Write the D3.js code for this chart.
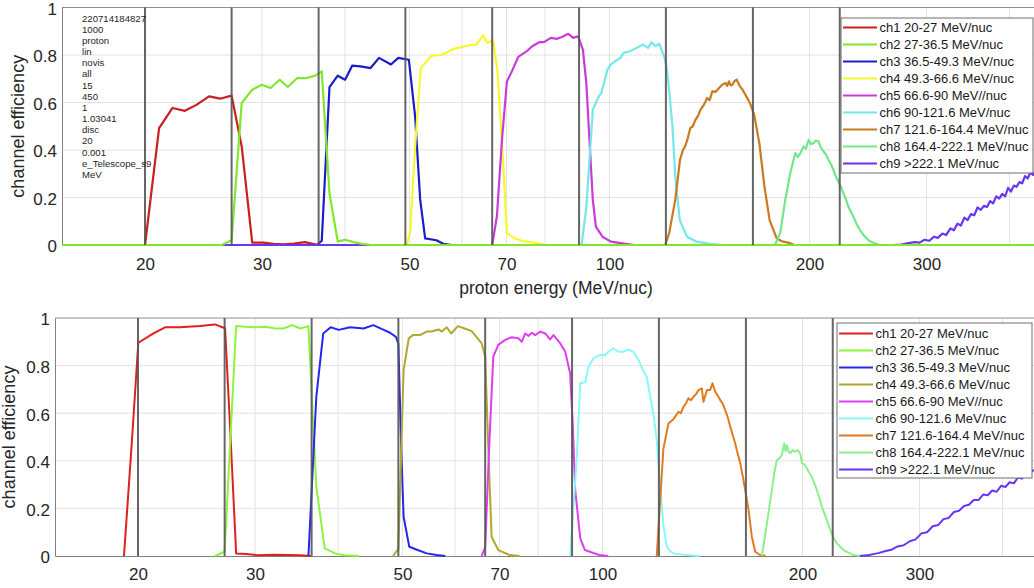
<!DOCTYPE html>
<html><head><meta charset="utf-8">
<script src="https://cdn.jsdelivr.net/npm/d3@7"></script>
<style>
html,body{margin:0;padding:0;background:#fff;}
svg{display:block;font-family:"Liberation Sans",Arial,Helvetica,sans-serif;}
</style></head>
<body><svg id="c" width="1034" height="588"></svg>
<script>
// ---------- DATA ----------
const xTickVals   = [20, 30, 40, 50, 60, 70, 80, 90, 100, 200, 300, 400];
const xTickLabels = ["20","30","","50","","70","","","100","200","300",""];
const yTickVals   = [0, 0.2, 0.4, 0.6, 0.8, 1];
const yTickLabels = ["0","0.2","0.4","0.6","0.8","1"];
const boundaries  = [20, 27, 36.5, 49.3, 66.6, 90, 121.6, 164.4, 222.1];
const channelNames = ["ch1 20-27 MeV/nuc","ch2 27-36.5 MeV/nuc","ch3 36.5-49.3 MeV/nuc","ch4 49.3-66.6 MeV/nuc",
  "ch5 66.6-90 MeV//nuc","ch6 90-121.6 MeV/nuc","ch7 121.6-164.4 MeV/nuc","ch8 164.4-222.1 MeV/nuc","ch9 >222.1 MeV/nuc"];
const topColors    = ["#c8201e","#80e82a","#1c1ccc","#f7f72e","#c93ad9","#73e8e8","#c87a1e","#73e68c","#6a35f0"];
const bottomColors = ["#e02020","#8cf53a","#2626f0","#b0a830","#e03cf0","#88f8f8","#e07b22","#8cf08c","#6a33ff"];
const infoLines = ["220714184827","1000","proton","lin","novis","all","15","450","1","1.03041","disc","20","0.001","e_Telescope_s9","MeV"];
const xLabel = "proton energy (MeV/nuc)";
const yLabel = "channel efficiency";

// top panel series: [energy MeV/nuc, efficiency]
const top_ch1 = [[15,0],[19.9,0],[20.0,0],[21.0,0.492],[22.0,0.577],[22.96,0.565],[23.9,0.59],[24.97,0.626],[25.94,0.616],[27.0,0.629],[27.96,0.415],[29.0,0.01],[30.1,0.01],[31.2,0.005],[32.3,0.003],[33.5,0.006],[34.8,0.012],[35.9,0.004],[36.5,0],[450,0]];
const top_ch2 = [[15,0],[26.1,0],[27.0,0.02],[27.96,0.598],[29.0,0.654],[29.97,0.675],[30.9,0.661],[31.9,0.696],[32.8,0.665],[33.9,0.703],[35.0,0.703],[36.1,0.713],[36.9,0.731],[37.9,0.218],[39.0,0.014],[40.0,0.022],[41.2,0.012],[42.4,0.005],[43.7,0],[450,0]];
const top_ch3 = [[15,0],[36.3,0],[36.9,0.018],[37.9,0.665],[39.0,0.713],[40.0,0.696],[41.0,0.755],[42.2,0.752],[43.7,0.745],[45.0,0.788],[46.9,0.76],[48.1,0.788],[49.9,0.78],[51.0,0.541],[51.9,0.19],[52.8,0.028],[54.9,0.02],[56.2,0.005],[58,0],[450,0]];
const top_ch4 = [[15,0],[49.5,0],[50.1,0.05],[51.0,0.415],[52.0,0.745],[52.8,0.767],[54.0,0.797],[55.9,0.80],[58.3,0.826],[59.9,0.833],[61.3,0.84],[63.0,0.844],[64.6,0.882],[65.4,0.851],[66.8,0.862],[67.8,0.738],[69.0,0.40],[70.1,0.05],[72.0,0.028],[74.5,0.015],[77.1,0.01],[80,0],[450,0]];
const top_ch5 = [[15,0],[66.6,0],[67.7,0.12],[68.9,0.443],[70.1,0.689],[71.3,0.731],[72.9,0.792],[75.1,0.816],[76.5,0.837],[78.4,0.854],[79.7,0.854],[81.6,0.872],[83.4,0.868],[84.8,0.876],[86.7,0.889],[88.2,0.872],[89.7,0.879],[91.2,0.823],[92.3,0.682],[93.3,0.443],[94.4,0.19],[95.4,0.077],[97.6,0.035],[100.5,0.014],[104.5,0.007],[109,0],[450,0]];
const top_ch6 = [[15,0],[90.8,0],[92.3,0.16],[94.4,0.57],[96.4,0.626],[97.2,0.64],[99.3,0.738],[100.5,0.76],[102.0,0.774],[103.9,0.788],[105.0,0.809],[107.4,0.816],[109.9,0.83],[112.4,0.844],[114.3,0.83],[115.7,0.854],[117.4,0.837],[118.8,0.848],[121.0,0.79],[122.0,0.74],[123.0,0.65],[124.4,0.5],[125.6,0.29],[127.6,0.105],[130.8,0.035],[135.3,0.014],[141.5,0.005],[148,0],[450,0]];
const top_ch7 = [[15,0],[121.3,0],[123.0,0.05],[125.6,0.19],[127.7,0.359],[129,0.4],[130.0,0.415],[131.2,0.45],[132.3,0.492],[133.5,0.5],[134.7,0.527],[136,0.545],[137.1,0.57],[138.7,0.59],[140.3,0.619],[141.5,0.61],[142.8,0.647],[144.5,0.645],[146.2,0.661],[147.8,0.675],[149.5,0.682],[150.4,0.67],[151.3,0.689],[152.2,0.672],[153.1,0.675],[154.2,0.69],[155.4,0.696],[157,0.67],[158.6,0.654],[160,0.635],[161.7,0.612],[163.4,0.585],[165.1,0.549],[168.1,0.429],[171.1,0.246],[174.2,0.105],[178.5,0.028],[182,0.015],[185.7,0.01],[190,0],[450,0]];
const top_ch8 = [[15,0],[177.4,0],[180.7,0.05],[183.9,0.19],[187.1,0.302],[190.4,0.387],[192,0.37],[193.8,0.387],[196.0,0.415],[197.5,0.405],[199.4,0.443],[201,0.425],[202.9,0.429],[204.5,0.44],[206.4,0.436],[208,0.41],[210.0,0.394],[211.8,0.38],[213.6,0.359],[215.5,0.34],[217.3,0.316],[219,0.29],[221.1,0.267],[223,0.245],[224.9,0.218],[226.8,0.195],[228.8,0.162],[230.8,0.14],[232.8,0.12],[235.5,0.088],[238.2,0.063],[241.5,0.04],[245.1,0.021],[250,0.008],[255.1,0],[450,0]];
const top_ch9 = [[15,0],[267,0],[275,0.002],[282,0.008],[288,0.012],[293,0.01],[298,0.022],[303,0.018],[308,0.035],[312,0.03],[317,0.048],[321,0.042],[326,0.07],[330,0.062],[334,0.09],[338,0.082],[342,0.115],[346,0.105],[350,0.13],[354,0.125],[358,0.158],[362,0.148],[366,0.165],[370,0.16],[374,0.185],[378,0.175],[382,0.205],[386,0.195],[390,0.215],[394,0.205],[398,0.24],[402,0.225],[406,0.25],[410,0.245],[414,0.265],[418,0.26],[422,0.29],[426,0.28],[430,0.305],[434,0.295],[438,0.315],[442,0.305],[446,0.325],[450,0.315]];

// bottom panel series
const bot_ch1 = [[19.05,0],[19.57,0.473],[20.02,0.896],[21.1,0.935],[21.96,0.961],[23.1,0.961],[24.8,0.966],[26.1,0.973],[27.04,0.957],[27.5,0.557],[28.1,0.011],[29.1,0.008],[30.3,0.003],[32.0,0.005],[35.1,0.003],[36.4,0]];
const bot_ch2 = [[26.1,0],[27.0,0.018],[28.1,0.966],[29.0,0.963],[30.0,0.961],[31.1,0.963],[32.2,0.956],[33.1,0.956],[34.1,0.97],[35.1,0.956],[36.1,0.966],[37.1,0.29],[38.2,0.032],[39.6,0.011],[40.9,0.003],[43,0]];
const bot_ch3 = [[36.1,0],[37.1,0.67],[38.0,0.935],[39.0,0.961],[40.1,0.95],[41.7,0.961],[43.7,0.956],[45.2,0.97],[46.6,0.953],[47.9,0.938],[48.9,0.92],[49.3,0.893],[49.8,0.445],[50.2,0.165],[51.2,0.039],[52.7,0.025],[54.4,0.011],[56.3,0.004],[58,0]];
const bot_ch4 = [[48.4,0],[49.3,0.03],[50.2,0.78],[51.1,0.914],[51.9,0.929],[53.2,0.929],[54.4,0.943],[55.3,0.943],[56.7,0.952],[57.3,0.943],[58.3,0.961],[59.2,0.935],[60.6,0.966],[62.0,0.956],[63.5,0.946],[64.6,0.921],[65.8,0.893],[66.6,0.838],[67.4,0.417],[68.1,0.081],[69.7,0.025],[72.5,0.004],[75,0]];
const bot_ch5 = [[65.8,0],[66.6,0.036],[67.6,0.487],[68.5,0.838],[69.7,0.887],[71.4,0.908],[73.0,0.919],[74.7,0.915],[75.6,0.9],[76.5,0.935],[77.4,0.925],[78.3,0.938],[79.2,0.928],[80.6,0.943],[82.0,0.935],[83.4,0.91],[84.4,0.928],[86.4,0.893],[87.9,0.858],[89.4,0.768],[90.2,0.557],[91.0,0.277],[92.6,0.074],[94.1,0.025],[98.9,0.004],[102,0]];
const bot_ch6 = [[89.4,0],[91.5,0.417],[92.6,0.726],[94.2,0.73],[95.3,0.795],[96.9,0.83],[99.2,0.845],[100.9,0.845],[102.1,0.858],[103.9,0.873],[105.7,0.858],[107.5,0.858],[109.4,0.868],[111.3,0.858],[113.3,0.824],[115.3,0.774],[116.6,0.753],[118.0,0.669],[119.3,0.6],[120.7,0.487],[122.1,0.3],[123.5,0.13],[125,0.04],[126.5,0.02],[128.2,0.01],[134,0.004],[140,0]];
const bot_ch7 = [[120.7,0],[123.5,0.45],[125.7,0.557],[127.9,0.575],[130.1,0.606],[131.2,0.6],[132.4,0.627],[133.5,0.64],[134.7,0.663],[135.9,0.655],[137.1,0.669],[138.3,0.68],[139.5,0.697],[141.1,0.704],[141.9,0.648],[143.6,0.697],[145.2,0.697],[146.4,0.726],[147.8,0.69],[149,0.675],[150.4,0.655],[151.7,0.64],[153.0,0.613],[154.3,0.585],[155.7,0.543],[157,0.51],[158.4,0.473],[159.8,0.43],[161.2,0.39],[162.6,0.335],[164.0,0.277],[165.9,0.193],[167.8,0.081],[169.8,0.018],[172.7,0.004],[176,0]];
const bot_ch8 = [[173.8,0],[176.8,0.137],[179.9,0.277],[181.4,0.35],[183.0,0.403],[184.6,0.41],[186.2,0.424],[187.7,0.473],[188.6,0.44],[189.5,0.465],[190.6,0.44],[191.7,0.431],[193.3,0.445],[195.0,0.438],[196.7,0.445],[198.4,0.431],[199.6,0.39],[201.3,0.385],[203.1,0.368],[204.8,0.35],[206.6,0.333],[208.4,0.305],[210.2,0.277],[212,0.245],[213.9,0.207],[215.7,0.18],[217.6,0.151],[219.5,0.12],[221.4,0.095],[223.3,0.07],[225.3,0.053],[230.5,0.025],[238.7,0.004],[245,0]];
const bot_ch9 = [[244,0],[252,0.004],[260,0.012],[266,0.02],[272,0.026],[278,0.04],[284,0.045],[290,0.062],[296,0.07],[302,0.095],[308,0.1],[314,0.125],[320,0.13],[326,0.155],[332,0.16],[338,0.185],[344,0.19],[350,0.21],[356,0.215],[362,0.235],[368,0.235],[374,0.258],[380,0.255],[386,0.275],[392,0.27],[398,0.295],[404,0.29],[410,0.31],[416,0.305],[422,0.33],[428,0.325],[434,0.345],[440,0.35],[445,0.36],[450,0.365]];

const topSeries = [top_ch1, top_ch2, top_ch3, top_ch4, top_ch5, top_ch6, top_ch7, top_ch8, top_ch9];
const botSeries = [bot_ch1, bot_ch2, bot_ch3, bot_ch4, bot_ch5, bot_ch6, bot_ch7, bot_ch8, bot_ch9];

// ---------- DRAW ----------
const svg = d3.select("#c");
const textColor = "#262626";

function drawPanel(cfg) {
  const x = d3.scaleLog().domain([15, 450]).range([cfg.x0, cfg.x1]);
  const y = d3.scaleLinear().domain([0, 1]).range([cfg.yBot, cfg.yTop]);
  const g = svg.append("g");
  const clipId = "clip" + cfg.id;
  svg.append("clipPath").attr("id", clipId).append("rect")
    .attr("x", cfg.x0).attr("y", cfg.yTop - 2).attr("width", cfg.x1 - cfg.x0).attr("height", cfg.yBot - cfg.yTop + 4);

  // grid
  g.append("g").selectAll("line").data(xTickVals).join("line")
    .attr("x1", d => x(d)).attr("x2", d => x(d)).attr("y1", cfg.yTop).attr("y2", cfg.yBot)
    .attr("stroke", "#e3e3e3").attr("stroke-width", 1);
  g.append("g").selectAll("line").data(yTickVals.slice(1, -1)).join("line")
    .attr("x1", cfg.x0).attr("x2", cfg.x1).attr("y1", d => y(d)).attr("y2", d => y(d))
    .attr("stroke", "#e3e3e3").attr("stroke-width", 1);

  // axes
  const xAxis = d3.axisBottom(x).tickValues(xTickVals).tickFormat((d, i) => xTickLabels[i]).tickSize(0).tickPadding(cfg.xPad);
  const ax = g.append("g").attr("transform", `translate(0,${cfg.yBot})`).call(xAxis);
  ax.select(".domain").attr("stroke", "#808080");
  ax.selectAll("text").attr("fill", textColor).attr("font-size", 17).attr("font-family", "Liberation Sans, Arial, sans-serif");
  const yAxis = d3.axisLeft(y).tickValues(yTickVals).tickFormat((d, i) => yTickLabels[i]).tickSize(0).tickPadding(cfg.yPad);
  const ay = g.append("g").attr("transform", `translate(${cfg.x0},0)`).call(yAxis);
  ay.select(".domain").attr("stroke", "#808080");
  ay.selectAll("text").attr("fill", textColor).attr("font-size", 17).attr("dy", "0.4em")
    .attr("font-family", "Liberation Sans, Arial, sans-serif");
  g.append("line").attr("x1", cfg.x0).attr("x2", cfg.x1).attr("y1", y(1)).attr("y2", y(1)).attr("stroke", "#909090");

  // series
  const line = d3.line().x(d => x(d[0])).y(d => y(d[1]));
  const lg = g.append("g").attr("clip-path", `url(#${clipId})`);
  cfg.order.forEach(i => {
    lg.append("path").datum(cfg.series[i]).attr("d", line)
      .attr("fill", "none").attr("stroke", cfg.colors[i]).attr("stroke-width", cfg.lw)
      .attr("stroke-linejoin", "round");
  });

  // channel boundary lines
  g.append("g").selectAll("line").data(boundaries).join("line")
    .attr("x1", d => x(d)).attr("x2", d => x(d)).attr("y1", cfg.yTop).attr("y2", cfg.yBot)
    .attr("stroke", "#555").attr("stroke-opacity", 0.9).attr("stroke-width", 2);

  // y label
  g.append("text").attr("transform", `translate(${cfg.yLabX},${(cfg.yTop + cfg.yBot) / 2}) rotate(-90)`)
    .attr("text-anchor", "middle").attr("font-size", 18).attr("fill", textColor).text(yLabel);

  // legend
  const L = cfg.legend;
  const lgd = g.append("g");
  lgd.append("rect").attr("x", L.x).attr("y", L.y).attr("width", L.w).attr("height", L.h)
    .attr("fill", "#fff").attr("stroke", "#6e6e6e").attr("stroke-width", 1);
  channelNames.forEach((name, i) => {
    const cy = L.y + L.first + i * 17;
    lgd.append("line").attr("x1", L.x + 2).attr("x2", L.x + 36).attr("y1", cy).attr("y2", cy)
      .attr("stroke", cfg.colors[i]).attr("stroke-width", 2);
    lgd.append("text").attr("x", L.x + 38.5).attr("y", cy).attr("dy", "0.36em")
      .attr("font-size", 13).attr("fill", "#1a1a1a").text(name);
  });
  return {x, y, g};
}

const topPanel = drawPanel({
  id: "t", x0: 62, x1: 1043.5, yTop: 7.5, yBot: 245, xPad: 13, yPad: 5, yLabX: 24, lw: 2.2,
  series: topSeries, colors: topColors, order: [0, 2, 3, 4, 5, 6, 7, 8, 1],
  legend: {x: 841, y: 18, w: 192, h: 155, first: 9.5}
});
const botPanel = drawPanel({
  id: "b", x0: 55, x1: 1036.5, yTop: 318, yBot: 556, xPad: 12, yPad: 5, yLabX: 15, lw: 2,
  series: botSeries, colors: bottomColors, order: [0, 1, 2, 3, 4, 5, 6, 7, 8],
  legend: {x: 837, y: 323, w: 195, h: 155, first: 10.5}
});

svg.append("text").attr("x", 556).attr("y", 294).attr("text-anchor", "middle")
  .attr("font-size", 17.5).attr("fill", textColor).text(xLabel);

const info = svg.append("g");
infoLines.forEach((t, i) => {
  info.append("text").attr("x", 82).attr("y", 21.5 + i * 11.18).attr("font-size", 9.6).attr("fill", textColor).text(t);
});
</script></body></html>
